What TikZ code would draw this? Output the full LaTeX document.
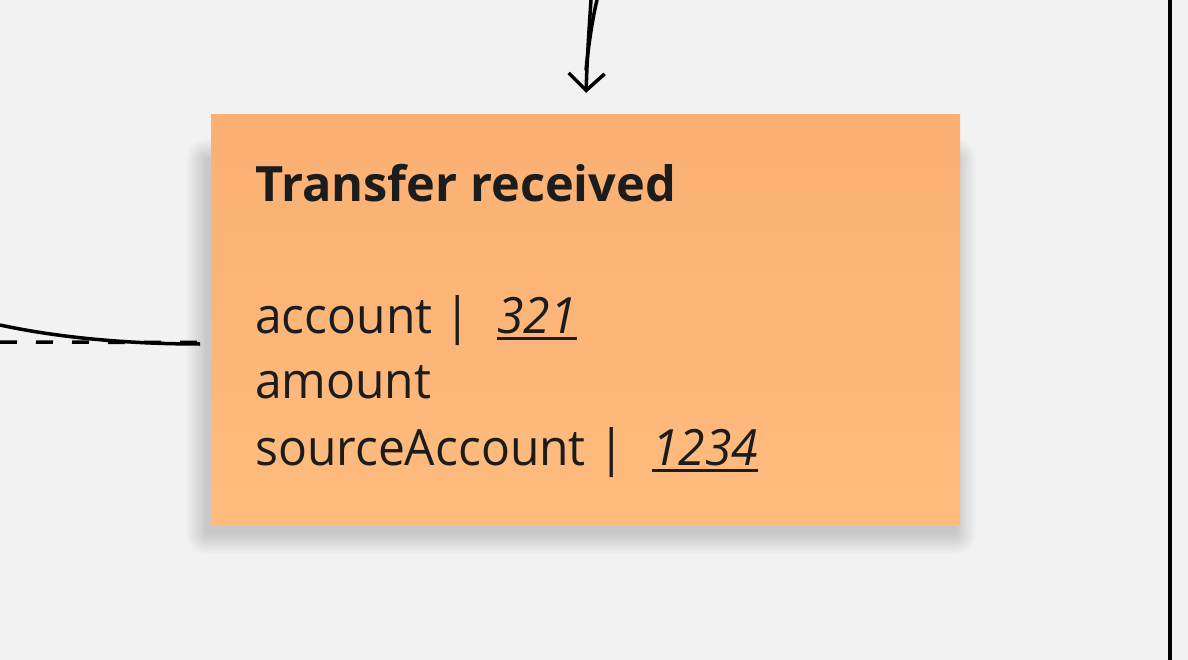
\documentclass[tikz,border=0pt]{standalone}
\usepackage{fontspec}
\setmainfont{Open Sans}
\newfontfamily\notefont[FakeStretch=0.96]{Open Sans}
\usetikzlibrary{arrows.meta}
\definecolor{bg}{HTML}{F2F2F2}
\definecolor{notetop}{HTML}{FAB072}
\definecolor{notebot}{HTML}{FFBB7E}
\definecolor{ink}{HTML}{1C1C1C}
\tikzset{
  note/.style={rectangle, minimum width=749pt, minimum height=410pt, inner sep=0pt,
    top color=notetop, bottom color=notebot, draw=none},
  shadowlayer/.style={fill=black, fill opacity=0.01, draw=none},
  txt/.style={anchor=base west, inner sep=0pt, text=ink, font=\notefont\fontsize{50}{60}\selectfont},
  ttl/.style={anchor=base west, inner sep=0pt, text=ink, font=\bfseries\fontsize{48.7}{58}\selectfont},
  num/.style={anchor=base west, inner sep=0pt, text=ink, font=\notefont\itshape\fontsize{50}{60}\selectfont},
  conn/.style={line width=3.5pt, black, line cap=round},
  vee/.style={-{Straight Barb[length=17pt,width=36pt,line width=3.5pt]}}
}
\begin{document}
\begin{tikzpicture}[x=1pt,y=-1pt]
\fill[bg] (0,0) rectangle (1188,660);
\useasboundingbox (0,0) rectangle (1188,660);
% right border line
\coordinate (rt) at (1170,0);
\coordinate (rb) at (1170,660);
\draw[line width=4pt] (rt) -- (rb);
% soft shadow of the note
\foreach \r in {1.5,3,...,21} {
  \fill[shadowlayer, rounded corners=\r pt] (207-\r,160-\r) rectangle (955+\r,533+\r);
}
% sticky note
\node[note] (n) at (585.5,320) {};
\node[ttl] (t) at (255,202) {Transfer received};
\node[txt] (a1) at (255,333) {account |};
\node[num] (v1) at (497,333) {321};
\node[txt] (a2) at (255,398) {amount};
\node[txt] (a3) at (255,465) {sourceAccount |};
\node[num] (v2) at (652,465) {1234};
\draw[ink, line width=3.2pt] ([yshift=-5.5pt]v1.base west) -- ([yshift=-5.5pt]v1.base east);
\draw[ink, line width=3.2pt] ([yshift=-5.5pt]v2.base west) -- ([yshift=-5.5pt]v2.base east);
% top arrow (sketchy double stroke)
\coordinate (top1) at (591,0);
\coordinate (top2) at (597,0);
\draw[conn] (top2) .. controls (592,20) and (588,50) .. (586,70);
\draw[conn, vee, shorten >=22pt] (top1) .. controls (589,30) and (587,60) .. (n.north);
% left connectors
\coordinate (l1) at (0,325);
\coordinate (l2) at (0,342);
\draw[conn, line cap=butt] (l1) .. controls (60,338) and (130,344) .. (200,344);
\draw[conn, line cap=butt, dash pattern=on 17pt off 19pt] (l2) -- (200,342.5);
\end{tikzpicture}
\end{document}
